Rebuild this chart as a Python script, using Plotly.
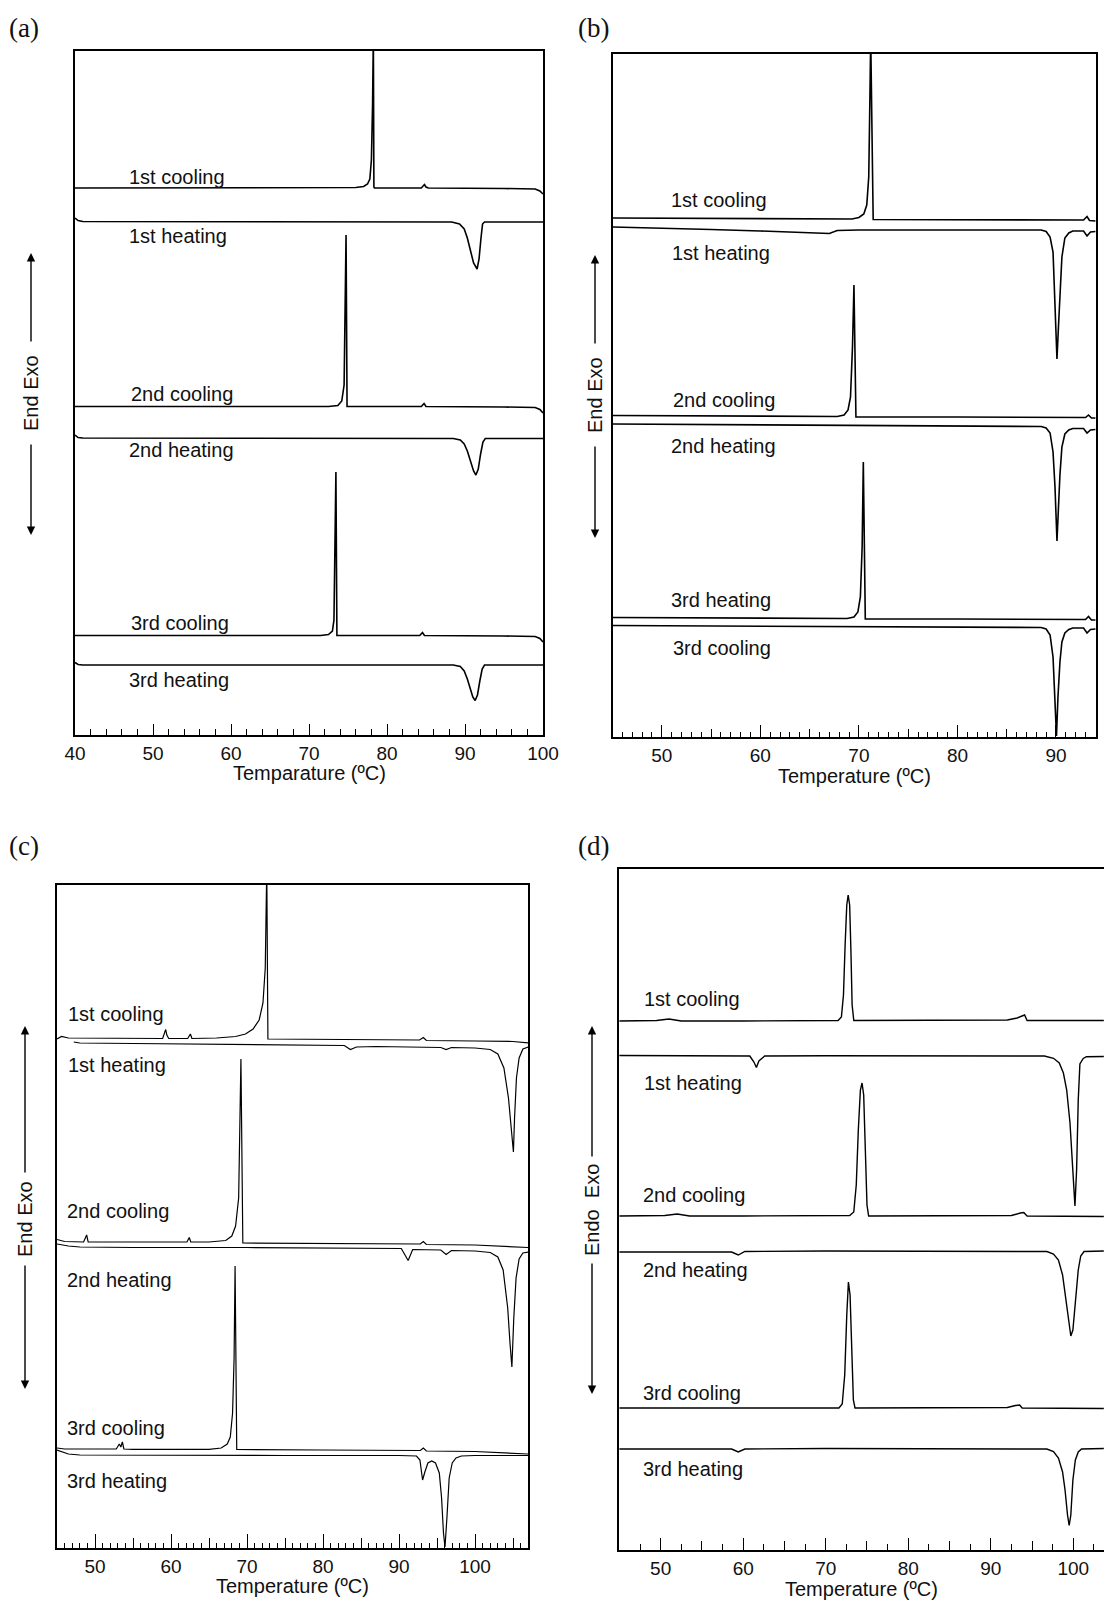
import plotly.graph_objects as go

W, H = 1104, 1601
FONT = "Liberation Sans, Arial, Helvetica, sans-serif"
SERIF = "Liberation Serif, Times New Roman, serif"

def PX(x):
    return x / W

def PY(y):
    return 1 - y / H

# ---------------- Panel (a) data : temperature (degC), signal (arb. units) ----------------
a_c1_T = [40, 50, 60, 70, 76.0, 77.0, 77.5, 77.8, 78.0, 78.15, 78.25, 78.32, 78.4, 84.4, 84.8, 85.0, 85.3, 95, 99.0, 99.6, 100]
a_c1_v = [547, 547, 547, 547, 547.5, 548.5, 551, 556, 575, 630, 700, 548, 547, 547, 550.5, 548, 547, 546.5, 546, 544, 541]
a_h1_T = [40, 40.4, 41, 50, 60, 70, 80, 88.3, 89.3, 89.9, 90.3, 90.7, 91.1, 91.55, 91.8, 92.05, 92.25, 92.5, 100]
a_h1_v = [517, 514.5, 513.5, 513.5, 513.5, 513.5, 513.5, 513, 511, 506, 497, 484, 472, 466, 476, 497, 511, 513, 513]
a_c2_T = [40, 60, 72.5, 73.7, 74.2, 74.5, 74.65, 74.75, 74.88, 84.4, 84.75, 85.0, 95, 99.0, 99.6, 100]
a_c2_v = [328.5, 328.5, 328.5, 329.5, 334, 350, 420, 500, 328.5, 328.5, 331.5, 328.5, 328, 327.5, 325.5, 322]
a_h2_T = [40, 40.4, 41, 60, 80, 88.5, 89.4, 89.9, 90.3, 90.7, 91.1, 91.4, 91.7, 92.0, 92.3, 92.6, 100]
a_h2_v = [300, 297.5, 297, 297, 297, 296.5, 295, 291, 284, 274, 264, 260, 266, 281, 293, 296.5, 296.5]
a_c3_T = [40, 60, 71.5, 72.5, 73.0, 73.2, 73.35, 73.45, 73.58, 84.2, 84.55, 84.8, 95, 99, 99.6, 100]
a_c3_v = [99.5, 99.5, 99.5, 100.5, 104, 115, 180, 263, 99.5, 99.5, 102.5, 99.5, 99, 98.5, 96.5, 93]
a_h3_T = [40, 40.4, 41, 60, 80, 88.5, 89.4, 89.9, 90.3, 90.7, 91.0, 91.3, 91.6, 91.9, 92.2, 92.5, 100]
a_h3_v = [72.5, 70.5, 70, 70, 70.5, 70, 68.5, 64, 56, 45, 38, 34.5, 40, 54, 66, 70, 70]

# ---------------- Panel (b) data ----------------
b_c1_T = [45, 55, 65, 69.3, 70.0, 70.5, 70.8, 71.0, 71.12, 71.2, 71.45, 80, 90, 92.8, 93.15, 93.4, 94]
b_c1_v = [519, 518.5, 518, 518, 519.5, 523, 532, 560, 640, 700, 517.5, 517.5, 517, 517, 520.5, 516.5, 516]
b_h1_T = [45, 50, 55, 60, 63, 66.5, 67.0, 67.8, 70, 80, 88.5, 89.0, 89.4, 89.7, 89.9, 90.1, 90.25, 90.4, 90.6, 90.9, 91.3, 91.7, 92.8, 93.15, 93.5, 94]
b_h1_v = [510, 509, 507.5, 506, 505, 504, 503.5, 506.5, 507, 507, 507, 505.5, 500, 485, 440, 378, 410, 445, 480, 499, 504, 506, 506, 501, 505, 505.5]
b_c2_T = [45, 55, 65, 67.8, 68.5, 68.9, 69.15, 69.35, 69.5, 69.7, 80, 90, 93.0, 93.3, 93.6, 94]
b_c2_v = [321.5, 321, 320.5, 320.5, 322, 327, 340, 390, 452, 320, 320, 319.5, 319.5, 322, 319, 319]
b_h2_T = [45, 55, 65, 80, 88.5, 89.0, 89.4, 89.7, 89.9, 90.1, 90.25, 90.4, 90.6, 90.9, 91.3, 91.7, 92.8, 93.15, 93.5, 94]
b_h2_v = [313, 312.5, 312, 311, 310.5, 309, 304, 285, 250, 196, 230, 262, 290, 303, 307, 308.5, 308.5, 304, 307, 307.5]
b_c3_T = [45, 55, 65, 68.8, 69.5, 69.9, 70.15, 70.33, 70.45, 70.65, 80, 90, 93.0, 93.3, 93.6, 94]
b_c3_v = [119.5, 119, 118.5, 118.5, 120, 125, 140, 190, 275, 118, 118, 117.5, 117.5, 120.5, 117, 117]
b_h3_T = [45, 55, 65, 80, 88.5, 89.0, 89.4, 89.7, 89.9, 90.05, 90.2, 90.4, 90.6, 90.9, 91.3, 91.7, 92.8, 93.15, 93.5, 94]
b_h3_v = [111.5, 111, 110.5, 110, 109.5, 108, 102, 80, 40, 1, 40, 75, 95, 104, 107.5, 109, 109, 104, 107.5, 108]

# ---------------- Panel (c) data ----------------
c_c1_T = [45, 45.6, 46.5, 55, 58.9, 59.3, 59.45, 59.7, 62.2, 62.55, 62.75, 66, 68.5, 69.8, 70.8, 71.6, 72.1, 72.4, 72.6, 72.75, 80, 92.7, 93.2, 93.6, 100, 105, 107]
c_c1_v = [509, 511.5, 510, 509.5, 509.5, 518.5, 513, 509.5, 509.5, 514, 509.5, 510, 511.5, 514, 519, 528, 545, 580, 680, 509, 508.5, 508, 510.5, 507.5, 507, 506.5, 505]
c_h1_T = [47.2, 48, 55, 65, 75, 80, 82.8, 83.6, 84.4, 87, 95.5, 96.2, 96.9, 100, 102, 103, 103.8, 104.4, 104.8, 105.05, 105.2, 105.45, 105.8, 106.3, 107]
c_h1_v = [506, 505, 504.5, 504, 503.5, 503, 502.5, 498.5, 501, 501.5, 500.5, 498.5, 500.5, 500, 498.5, 494, 480, 450, 420, 396, 430, 470, 490, 499, 501]
c_c2_T = [45, 46, 48.5, 48.9, 49.1, 55, 62.1, 62.4, 62.6, 65, 67.2, 68.0, 68.5, 68.9, 69.1, 69.2, 69.45, 80, 92.8, 93.2, 93.6, 100, 107]
c_c2_v = [308.5, 306.5, 306, 313, 306, 306, 306, 310.5, 306, 306, 307.5, 312, 322, 350, 420, 489, 305, 304.5, 304, 306.5, 303.5, 303, 300.5]
c_h2_T = [45, 46.5, 48, 55, 70, 85, 90.3, 91.2, 91.8, 95.5, 96.2, 96.9, 100, 102, 103, 103.7, 104.3, 104.6, 104.85, 105.1, 105.4, 105.8, 106.3, 107]
c_h2_v = [304, 302, 301, 300.5, 300.5, 300, 299.5, 287.5, 298.5, 298, 293.5, 297.5, 297, 295.5, 291, 278, 240, 205, 181, 230, 270, 289, 295, 296]
c_c3_T = [45, 46, 52.8, 53.2, 53.4, 53.6, 53.8, 55, 65, 66.6, 67.4, 67.8, 68.1, 68.3, 68.43, 68.65, 80, 92.8, 93.2, 93.6, 100, 107]
c_c3_v = [100, 99, 99, 104, 101, 106, 99, 98.7, 98.7, 100, 104, 111, 135, 190, 282, 98.5, 98, 97.5, 100, 97, 96.5, 94]
c_h3_T = [45, 46.5, 48, 60, 75, 90, 92.3, 92.75, 93.1, 93.4, 93.8, 94.3, 94.8, 95.3, 95.6, 95.85, 96.05, 96.3, 96.6, 97.0, 97.5, 98.2, 100, 107]
c_h3_v = [98, 94, 93, 92.5, 92.5, 92.5, 92, 88, 68, 76, 85, 87, 85, 75, 50, 15, 1, 30, 70, 85, 90, 92, 92.5, 92.5]

# ---------------- Panel (d) data ----------------
d_c1_T = [45, 49.5, 51.0, 52.5, 60, 70, 71.5, 71.9, 72.15, 72.35, 72.55, 72.72, 72.9, 73.05, 73.2, 73.4, 80, 90, 92.0, 93.2, 93.8, 94.1, 94.4, 100, 103.7]
d_c1_v = [529, 529.5, 531, 529, 529, 529, 529.5, 533, 555, 605, 645, 655, 645, 600, 545, 529.5, 529.5, 529.5, 530, 532, 534, 535, 529.5, 529.5, 529.5]
d_h1_T = [45, 55, 60.8, 61.3, 61.6, 61.9, 62.6, 70, 90, 96.5, 97.6, 98.3, 98.8, 99.2, 99.6, 99.95, 100.2, 100.4, 100.6, 100.8, 101.2, 101.6, 103.7]
d_h1_v = [494.5, 494.5, 494, 488, 482.5, 489, 494, 494.3, 494, 494, 491.7, 487, 477, 460, 427, 380, 344, 380, 450, 486, 491.5, 493.3, 493.5]
d_c2_T = [45, 50.5, 52.0, 53.5, 60, 70, 72.9, 73.4, 73.7, 73.95, 74.2, 74.4, 74.6, 74.8, 75.0, 75.2, 80, 90, 92.5, 93.6, 94.0, 94.4, 100, 103.7]
d_c2_v = [334, 334.5, 336, 334, 334, 334, 334.5, 338, 365, 420, 460, 467, 455, 400, 345, 334, 334, 334, 334.5, 337, 337.5, 334, 333.5, 333.5]
d_h2_T = [45, 55, 58.6, 59.4, 60.2, 70, 90, 96.8, 97.6, 98.2, 98.7, 99.1, 99.45, 99.7, 99.95, 100.3, 100.6, 100.9, 101.3, 103.7]
d_h2_v = [298, 298.5, 298, 295, 298.5, 299, 299, 298.5, 296, 290, 275, 250, 225, 214, 220, 250, 280, 294, 298.5, 299]
d_c3_T = [45, 50, 60, 70, 71.6, 72.0, 72.3, 72.55, 72.75, 72.95, 73.15, 73.35, 73.55, 80, 90, 92.0, 93.0, 93.5, 93.8, 100, 103.7]
d_c3_v = [142, 142, 141.7, 141.7, 142, 146, 175, 235, 268, 255, 200, 150, 142, 142, 142, 142.5, 144.5, 145, 142, 141.5, 141.5]
d_h3_T = [45, 55, 58.6, 59.4, 60.2, 70, 90, 96.8, 97.6, 98.2, 98.7, 99.0, 99.3, 99.5, 99.7, 99.95, 100.25, 100.6, 101.0, 103.7]
d_h3_v = [101, 101.5, 101, 98, 101, 101.5, 101.5, 101, 98.5, 92, 78, 60, 35, 24.5, 35, 70, 90, 98, 101, 101.5]

# ---------------- Text ----------------
labels_a = ["1st cooling", "1st heating", "2nd cooling", "2nd heating", "3rd cooling", "3rd heating"]
labels_b = ["1st cooling", "1st heating", "2nd cooling", "2nd heating", "3rd heating", "3rd cooling"]
labels_c = ["1st cooling", "1st heating", "2nd cooling", "2nd heating", "3rd cooling", "3rd heating"]
labels_d = ["1st cooling", "1st heating", "2nd cooling", "2nd heating", "3rd cooling", "3rd heating"]
ticks_a = [40, 50, 60, 70, 80, 90, 100]
ticks_b = [50, 60, 70, 80, 90]
ticks_c = [50, 60, 70, 80, 90, 100]
ticks_d = [50, 60, 70, 80, 90, 100]
mid_b = [55, 65, 75, 85]
mid_c = [55, 65, 75, 85, 95, 105]
mid_d = [55, 65, 75, 85, 95]

# ---------------- Layout geometry (pixels) ----------------
panels = {
    "a": dict(x0=75, x1=543, y0=51, y1=735, rng=[40, 100], ticks=ticks_a, minor=2, mid=None,
              tl=11, ml=6, dl=0, lw=1.6,
              curves=[(a_c1_T, a_c1_v), (a_h1_T, a_h1_v), (a_c2_T, a_c2_v), (a_h2_T, a_h2_v), (a_c3_T, a_c3_v), (a_h3_T, a_h3_v)],
              labels=labels_a, lab_x=[127, 127, 129, 127, 129, 127], lab_y=[177, 236, 394, 450, 623, 680],
              title="Temparature (ºC)", title_xy=(309, 773),
              tag="(a)", tag_xy=(7, 28), ylab="End Exo", ylab_xy=(31, 393), arrows=(253, 343, 443, 535), mirror_y=True),
    "b": dict(x0=613, x1=1096, y0=54, y1=737, rng=[45.05, 94.06], ticks=ticks_b, minor=1, mid=mid_b,
              tl=12, ml=5, dl=8.5, lw=1.6,
              curves=[(b_c1_T, b_c1_v), (b_h1_T, b_h1_v), (b_c2_T, b_c2_v), (b_h2_T, b_h2_v), (b_c3_T, b_c3_v), (b_h3_T, b_h3_v)],
              labels=labels_b, lab_x=[669, 670, 671, 669, 669, 671], lab_y=[200, 253, 400, 446, 600, 648],
              title="Temperature (ºC)", title_xy=(854, 776),
              tag="(b)", tag_xy=(576, 28), ylab="End Exo", ylab_xy=(595, 395), arrows=(255, 345, 445, 538), mirror_y=True),
    "c": dict(x0=57, x1=528, y0=885, y1=1548, rng=[45.0, 106.97], ticks=ticks_c, minor=1, mid=mid_c,
              tl=14, ml=5.5, dl=10, lw=1.2,
              curves=[(c_c1_T, c_c1_v), (c_h1_T, c_h1_v), (c_c2_T, c_c2_v), (c_h2_T, c_h2_v), (c_c3_T, c_c3_v), (c_h3_T, c_h3_v)],
              labels=labels_c, lab_x=[66, 66, 65, 65, 65, 65], lab_y=[1014, 1065, 1211, 1280, 1428, 1481],
              title="Temperature (ºC)", title_xy=(292, 1586),
              tag="(c)", tag_xy=(7, 846), ylab="End Exo", ylab_xy=(25, 1219), arrows=(1026, 1174, 1264, 1389), mirror_y=True),
    "d": dict(x0=619, x1=1104, y0=869, y1=1550, rng=[44.95, 103.72], ticks=ticks_d, minor=2.5, mid=mid_d,
              tl=12, ml=6, dl=9, lw=1.4,
              curves=[(d_c1_T, d_c1_v), (d_h1_T, d_h1_v), (d_c2_T, d_c2_v), (d_h2_T, d_h2_v), (d_c3_T, d_c3_v), (d_h3_T, d_h3_v)],
              labels=labels_d, lab_x=[642, 642, 641, 641, 641, 641], lab_y=[999, 1083, 1195, 1270, 1393, 1469],
              title="Temperature (ºC)", title_xy=(861, 1589),
              tag="(d)", tag_xy=(576, 846), ylab="Endo  Exo", ylab_xy=(592, 1210), arrows=(1026, 1158, 1262, 1394), mirror_y=False),
}

fig = go.Figure()
annotations = []
layout = {}
extra = 5
for i, (key, p) in enumerate(panels.items(), start=1):
    xa = "x" if i == 1 else f"x{i}"
    ya = "y" if i == 1 else f"y{i}"
    xname = "xaxis" if i == 1 else f"xaxis{i}"
    yname = "yaxis" if i == 1 else f"yaxis{i}"
    hpx = p["y1"] - p["y0"]
    for T, v in p["curves"]:
        fig.add_trace(go.Scatter(x=T, y=v, mode="lines", xaxis=xa, yaxis=ya,
                                 line=dict(color="black", width=p["lw"]), showlegend=False,
                                 hoverinfo="skip"))
    layout[xname] = dict(
        domain=[PX(p["x0"]), PX(p["x1"])], range=p["rng"], anchor=ya,
        showline=True, mirror=True, linecolor="black", linewidth=1.6,
        showgrid=False, zeroline=False, automargin=False,
        tickmode="array", tickvals=p["ticks"], ticks="inside", ticklen=p["tl"],
        tickwidth=1.2, tickcolor="black",
        minor=dict(ticks="inside", dtick=p["minor"], tick0=0, ticklen=p["ml"], tickwidth=1.1,
                   tickcolor="black", showgrid=False),
        tickfont=dict(family=FONT, size=19, color="#111"),
    )
    layout[yname] = dict(
        domain=[PY(p["y1"]), PY(p["y0"])], range=[0, hpx], anchor=xa,
        showline=True, mirror=p["mirror_y"], linecolor="black", linewidth=1.6,
        showgrid=False, zeroline=False, showticklabels=False, ticks="", automargin=False,
    )
    if p["mid"]:
        xo = f"x{extra}"
        layout[f"xaxis{extra}"] = dict(
            overlaying=xa, anchor=ya, range=p["rng"], side="bottom",
            tickmode="array", tickvals=p["mid"], ticks="inside", ticklen=p["dl"],
            tickwidth=1.1, tickcolor="black", showticklabels=False,
            showline=False, showgrid=False, zeroline=False, automargin=False,
        )
        fig.add_trace(go.Scatter(x=[], y=[], xaxis=xo, yaxis=ya, mode="lines", showlegend=False))
        extra += 1
    # curve labels
    for txt, lx, ly in zip(p["labels"], p["lab_x"], p["lab_y"]):
        annotations.append(dict(text=txt, x=PX(lx), y=PY(ly), xref="paper", yref="paper",
                                xanchor="left", yanchor="middle", showarrow=False,
                                font=dict(family=FONT, size=20, color="#111")))
    # axis title
    annotations.append(dict(text=p["title"], x=PX(p["title_xy"][0]), y=PY(p["title_xy"][1]),
                            xref="paper", yref="paper", xanchor="center", yanchor="middle",
                            showarrow=False, font=dict(family=FONT, size=20, color="#111")))
    # panel tag
    annotations.append(dict(text=p["tag"], x=PX(p["tag_xy"][0]), y=PY(p["tag_xy"][1]),
                            xref="paper", yref="paper", xanchor="left", yanchor="middle",
                            showarrow=False, font=dict(family=SERIF, size=27, color="#111")))
    # y label
    annotations.append(dict(text=p["ylab"], x=PX(p["ylab_xy"][0]), y=PY(p["ylab_xy"][1]),
                            xref="paper", yref="paper", xanchor="center", yanchor="middle",
                            textangle=-90, showarrow=False,
                            font=dict(family=FONT, size=20, color="#111")))
    up_tip, up_tail, dn_tail, dn_tip = p["arrows"]
    ax_x = PX(p["ylab_xy"][0])
    annotations.append(dict(text="", x=ax_x, y=PY(up_tip), xref="paper", yref="paper",
                            showarrow=True, ax=0, ay=up_tail - up_tip, arrowhead=2,
                            arrowsize=1.2, arrowwidth=1.4, arrowcolor="black"))
    annotations.append(dict(text="", x=ax_x, y=PY(dn_tip), xref="paper", yref="paper",
                            showarrow=True, ax=0, ay=dn_tail - dn_tip, arrowhead=2,
                            arrowsize=1.2, arrowwidth=1.4, arrowcolor="black"))

fig.update_layout(**layout)
fig.update_layout(width=W, height=H, autosize=False,
                  margin=dict(l=0, r=0, t=0, b=0, pad=0, autoexpand=False),
                  paper_bgcolor="white", plot_bgcolor="white",
                  annotations=annotations, showlegend=False)
fig.write_html("out.html", config={"responsive": False, "displayModeBar": False},
               post_script="document.body.style.margin='0';document.body.style.overflow='hidden';")
